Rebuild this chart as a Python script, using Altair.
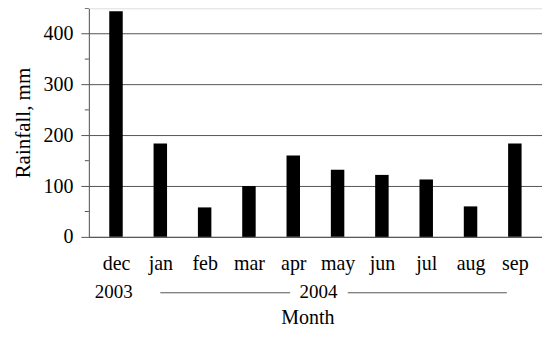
import json
import altair as alt
import pandas as pd

months = ["dec", "jan", "feb", "mar", "apr", "may", "jun", "jul", "aug", "sep"]
rainfall = [444, 184, 58, 100, 160, 132, 122, 113, 60, 184]
major_ticks = [0, 100, 200, 300, 400]
minor_ticks = [50, 150, 250, 350, 450]

# year annotation row (positions in month-index units)
year_labels = ["2003", "2004"]
year_at = [-0.05, 4.57]
span_start = [1.0, 5.23]
span_end = [3.93, 8.82]

FONT = "Liberation Serif"
AX = "#555555"

bars_df = pd.DataFrame({"i": list(range(len(months))), "month": months, "rain": rainfall})
minor_df = pd.DataFrame({"v": minor_ticks})
year_df = pd.DataFrame({"label": year_labels, "x": year_at})
span_df = pd.DataFrame({"x": span_start, "x2": span_end})

label_expr = json.dumps(months) + "[datum.value]"

xscale = alt.Scale(domain=[-0.5, len(months) - 0.5], nice=False, zero=False)
yscale = alt.Scale(domain=[0, 450], nice=False)

bars = alt.Chart(bars_df).mark_bar(color="black", size=13.5).encode(
    x=alt.X("i:Q", scale=xscale,
            axis=alt.Axis(values=list(range(len(months))), labelExpr=label_expr,
                          ticks=False, grid=False, title="Month",
                          titleX=219, titleY=87, titleBaseline="alphabetic",
                          labelFont=FONT, labelFontSize=20, labelColor="black",
                          labelPadding=17, titleFont=FONT, titleFontSize=20,
                          titleFontWeight="normal", titleColor="black",
                          domainColor=AX, labelFlush=False)),
    y=alt.Y("rain:Q", scale=yscale,
            axis=alt.Axis(values=major_ticks, grid=True, gridColor=AX, gridWidth=1,
                          tickColor=AX, tickSize=8, domainColor=AX,
                          title="Rainfall, mm", titleFont=FONT, titleFontSize=21,
                          titleFontWeight="normal", titleColor="black", titlePadding=9,
                          labelFont=FONT, labelFontSize=20, labelColor="black",
                          labelPadding=8)),
)

minor = alt.Chart(minor_df).mark_rule(color=AX, strokeWidth=1).encode(
    y=alt.Y("v:Q", scale=yscale),
    x=alt.value(-4),
    x2=alt.value(0),
)

years = alt.Chart(year_df).mark_text(font=FONT, fontSize=19, color="black",
                                     baseline="alphabetic").encode(
    x=alt.X("x:Q", scale=xscale),
    y=alt.value(290),
    text="label:N",
)

spans = alt.Chart(span_df).mark_rule(color=AX, strokeWidth=1).encode(
    x=alt.X("x:Q", scale=xscale),
    x2="x2:Q",
    y=alt.value(285),
)

chart = alt.layer(bars, minor, years, spans).properties(
    width=454, height=229,
    autosize=alt.AutoSizeParams(type="none"),
    padding={"left": 81, "top": 0, "right": 0, "bottom": 91},
).configure_view(stroke=None).configure(background="white")

chart.save("out.html", embed_options={"renderer": "svg", "actions": False})
